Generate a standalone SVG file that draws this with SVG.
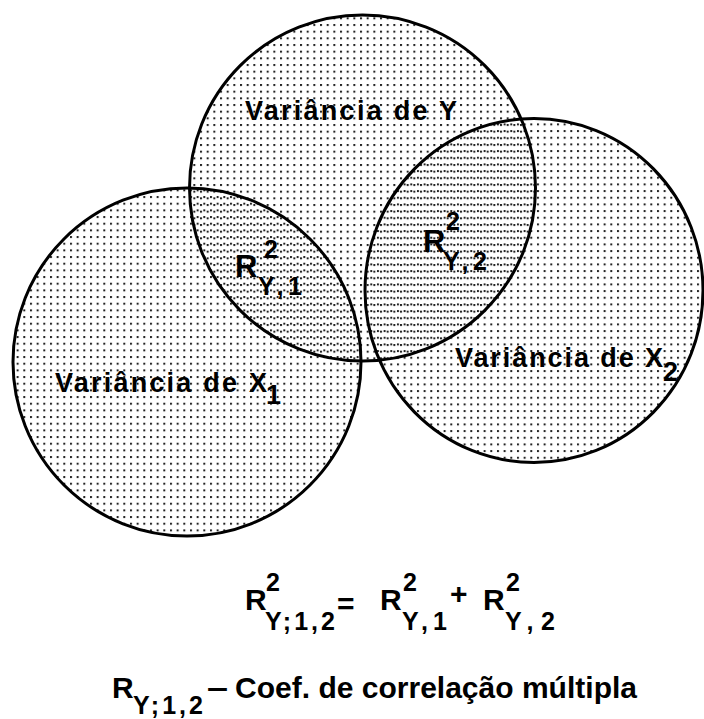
<svg xmlns="http://www.w3.org/2000/svg" width="704" height="719" viewBox="0 0 704 719">
<style>
.o{fill:none;stroke:#000;stroke-width:3;}
text{font-family:"Liberation Sans",Arial,sans-serif;fill:#000;font-weight:bold;}
.lab{font-size:27px;}
.r{font-size:31px;}
.s{font-size:25px;}
.f{font-size:30px;}
.fs{font-size:25px;}
.dot{fill:#222;}
</style>
<defs>
<pattern id="pY" patternUnits="userSpaceOnUse" x="0" y="4" width="6.667" height="6.667"><rect class="dot" x="0" y="0" width="2" height="2"/></pattern>
<pattern id="pX1" patternUnits="userSpaceOnUse" x="3.3" y="2.7" width="6.667" height="6.667"><rect class="dot" x="0" y="0" width="2" height="2"/></pattern>
<pattern id="pX2" patternUnits="userSpaceOnUse" x="3.6" y="3.4" width="6.667" height="6.667"><rect class="dot" x="0" y="0" width="2" height="2"/></pattern>
</defs>
<rect width="704" height="719" fill="#fff"/>
<g id="fills">
<circle cx="362.5" cy="188" r="173" fill="url(#pY)"/>
<circle cx="187" cy="362" r="174" fill="url(#pX1)"/>
<ellipse cx="534" cy="290.5" rx="169" ry="172" fill="url(#pX2)"/>
</g>
<g id="nodeY">
<circle class="o" cx="362.5" cy="188" r="173"/>
<text class="lab" x="245" y="120" textLength="212" lengthAdjust="spacing">Variância de Y</text>
</g>
<g id="nodeX1">
<circle class="o" cx="187" cy="362" r="174"/>
<text class="lab" x="55" y="392" textLength="212" lengthAdjust="spacing">Variância de X</text>
<text class="lab" x="266" y="404">1</text>
</g>
<g id="nodeX2">
<ellipse class="o" cx="534" cy="290.5" rx="169" ry="172"/>
<text class="lab" x="455" y="367" textLength="208" lengthAdjust="spacing">Variância de X</text>
<text class="lab" x="663" y="381">2</text>
</g>
<g id="overlapY1">
<text class="r" x="235" y="277">R</text>
<text class="s" x="264" y="258">2</text>
<text class="s" x="258" y="295" textLength="44" lengthAdjust="spacing">Y,1</text>
</g>
<g id="overlapY2">
<text class="r" x="423" y="252">R</text>
<text class="s" x="446" y="230">2</text>
<text class="s" x="443" y="270" textLength="44" lengthAdjust="spacing">Y,2</text>
</g>
<g id="connectors"></g>
<g id="formula">
<text class="f" x="245" y="610">R</text>
<text class="fs" x="266" y="591">2</text>
<text class="fs" x="265" y="630" textLength="70" lengthAdjust="spacing">Y;1,2</text>
<text class="f" x="337" y="614">=</text>
<text class="f" x="380" y="610">R</text>
<text class="fs" x="403" y="591">2</text>
<text class="fs" x="402" y="630" textLength="45" lengthAdjust="spacing">Y,1</text>
<text class="f" x="450" y="604">+</text>
<text class="f" x="483" y="610">R</text>
<text class="fs" x="506" y="591">2</text>
<text class="fs" x="505" y="630" textLength="50" lengthAdjust="spacing">Y,2</text>
</g>
<g id="legend">
<text class="f" x="112" y="698">R</text>
<text class="fs" x="133" y="714" textLength="70" lengthAdjust="spacing">Y;1,2</text>
<text class="f" x="207" y="698" textLength="21" lengthAdjust="spacingAndGlyphs">–</text>
<text class="f" x="235" y="698" textLength="402" lengthAdjust="spacing">Coef. de correlação múltipla</text>
</g>
</svg>
